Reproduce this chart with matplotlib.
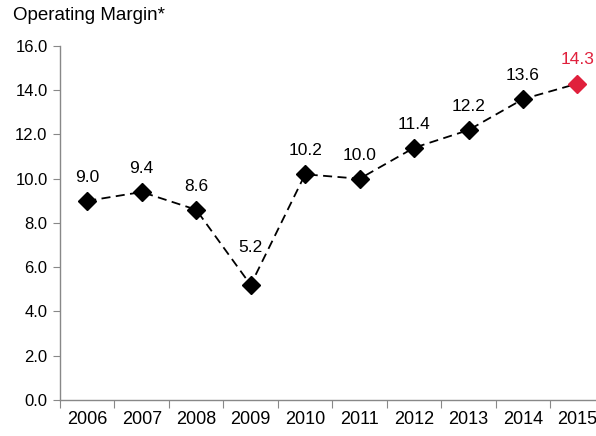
import matplotlib.pyplot as plt

plt.rcParams['font.family'] = ['Liberation Sans', 'DejaVu Sans']

years = ["2006", "2007", "2008", "2009", "2010", "2011", "2012", "2013", "2014", "2015"]
margin = [9.0, 9.4, 8.6, 5.2, 10.2, 10.0, 11.4, 12.2, 13.6, 14.3]
y_ticks = [0, 2, 4, 6, 8, 10, 12, 14, 16]

RED = "#e0203c"
GREY = "#888888"

fig = plt.figure(figsize=(5.96, 4.36), dpi=100)
ax = fig.add_axes([0.1007, 0.0826, 0.8993, 0.8119])

x = list(range(len(years)))
ax.plot(x, margin, color="black", linestyle=(0, (5, 3)), linewidth=1.3, zorder=2)
ax.plot(x[:-1], margin[:-1], linestyle="none", marker="D", markersize=9.5,
        color="black", zorder=3)
ax.plot(x[-1:], margin[-1:], linestyle="none", marker="D", markersize=9.5,
        color=RED, zorder=3)

# 2009 label sits higher so it clears the dashed line
offsets = {3: 27}
for i, v in enumerate(margin):
    c = RED if i == len(margin) - 1 else "black"
    ax.annotate("%.1f" % v, (i, v), xytext=(0, offsets.get(i, 17)),
                textcoords="offset points", ha="center", va="center",
                fontsize=12.5, color=c)

ax.set_xlim(-0.5, 9.34)
ax.set_ylim(0, 16)
ax.set_yticks(y_ticks)
ax.set_yticklabels(["%.1f" % t for t in y_ticks], fontsize=12)

ax.set_xticks([i + 0.5 for i in range(-1, 9)])
ax.set_xticklabels([])
ax.set_xticks(x, minor=True)
ax.set_xticklabels(years, minor=True, fontsize=13)
ax.tick_params(axis="x", which="minor", length=0, pad=8)
ax.tick_params(axis="x", which="major", length=6, color=GREY, direction="out")
ax.tick_params(axis="y", length=5, color=GREY, pad=4)

for s in ["top", "right"]:
    ax.spines[s].set_visible(False)
for s in ["left", "bottom"]:
    ax.spines[s].set_color(GREY)
    ax.spines[s].set_linewidth(1.0)

fig.text(0.022, 0.965, "Operating Margin*", fontsize=13.5, va="center", ha="left")

fig.savefig("out.png", dpi=100)
